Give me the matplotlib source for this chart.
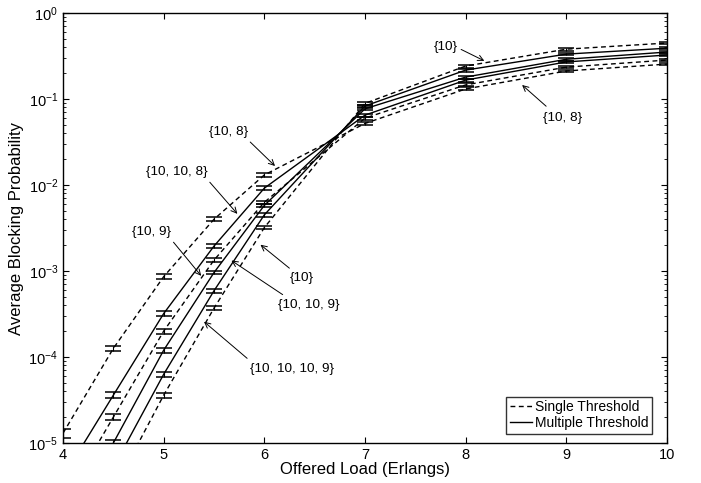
import numpy as np
import matplotlib
matplotlib.use("Agg")
import matplotlib.pyplot as plt

plt.rcParams['font.family'] = ['Liberation Sans', 'DejaVu Sans']
plt.rcParams['mathtext.fontset'] = 'custom'
plt.rcParams['mathtext.rm'] = 'Liberation Sans'

load = [4, 4.5, 5, 5.5, 6, 7, 8, 9, 10]

# single threshold (dashed)
st_10_8 = [1.3e-5, 1.26e-4, 8.6e-4, 4.0e-3, 1.31e-2, 0.052, 0.131, 0.212, 0.255]
st_10_9 = [2.0e-6, 2.0e-5, 2.0e-4, 1.34e-3, 6.3e-3, 0.060, 0.146, 0.235, 0.284]
st_10 = [2.0e-7, 2.8e-6, 3.6e-5, 3.7e-4, 3.2e-3, 0.089, 0.242, 0.380, 0.448]

# multiple threshold (solid)
mt_10_10_8 = [4.0e-6, 3.6e-5, 3.2e-4, 1.95e-3, 9.2e-3, 0.065, 0.166, 0.270, 0.325]
mt_10_10_9 = [8.0e-7, 1.0e-5, 1.2e-4, 9.6e-4, 5.8e-3, 0.077, 0.180, 0.290, 0.352]
mt_10_10_10_9 = [5.0e-7, 5.2e-6, 6.3e-5, 5.9e-4, 4.5e-3, 0.083, 0.217, 0.333, 0.390]

# relative half-width of the confidence bars at each load
err_frac = [0.12, 0.08, 0.07, 0.05, 0.045, 0.04, 0.04, 0.035, 0.03]

single = [st_10_8, st_10_9, st_10]
multiple = [mt_10_10_8, mt_10_10_9, mt_10_10_10_9]

# (label, text xy, arrow tail xy, arrow head xy)
notes = [
    ("{10, 8}", (5.64, 0.0413), (5.84, 0.0333), (6.126, 0.0158)),
    ("{10, 10, 8}", (5.13, 0.0142), (5.44, 0.0114), (5.75, 0.00437)),
    ("{10, 9}", (4.88, 0.00284), (5.08, 0.00229), (5.39, 8.3e-4)),
    ("{10}", (6.37, 8.3e-4), (6.27, 1.03e-3), (5.94, 2.12e-3)),
    ("{10, 10, 9}", (6.44, 4.0e-4), (6.205, 5.1e-4), (5.65, 1.38e-3)),
    ("{10, 10, 10, 9}", (6.275, 7.2e-5), (5.85, 9.2e-5), (5.38, 2.7e-4)),
    ("{10}", (7.80, 0.403), (7.93, 0.39), (8.21, 0.269)),
    ("{10, 8}", (8.96, 0.060), (8.82, 0.0785), (8.54, 0.153)),
]


def draw(ax, y, ls, label=None, first=1):
    y = np.array(y)
    err = y * np.array(err_frac)
    line, = ax.plot(load, y, color='k', lw=1.0, ls=ls, label=label)
    if ls == '--':
        line.set_dashes((3.5, 2.5))
    ax.errorbar(load[first:], y[first:], yerr=err[first:], fmt='none',
                ecolor='k', elinewidth=0.8, capsize=6, capthick=1.1)
    return line


fig = plt.figure(figsize=(7.01, 4.83), dpi=100)
ax = fig.add_axes([0.0899, 0.0828, 0.8616, 0.8902])

# only the top curve shows a bar at the first load
draw(ax, st_10_8, '--', 'Single Threshold', first=0)
draw(ax, st_10_9, '--')
draw(ax, st_10, '--')
for i, m in enumerate(multiple):
    draw(ax, m, '-', 'Multiple Threshold' if i == 0 else None)

ax.set_yscale('log')
ax.set_xlim(4, 10)
ax.set_ylim(1e-5, 1)
ax.set_xlabel("Offered Load (Erlangs)", fontsize=12, labelpad=0)
ax.set_ylabel("Average Blocking Probability", fontsize=12, labelpad=3)
ax.tick_params(which='both', direction='in', top=True, right=True, labelsize=10.5)
ax.tick_params(which='major', length=4.5)
ax.tick_params(which='minor', length=2.5)
for sp in ax.spines.values():
    sp.set_linewidth(1.0)

for txt, xy_t, tail, head in notes:
    ax.text(xy_t[0], xy_t[1], txt, fontsize=9.7, ha='center', va='center')
    ax.annotate("", xy=head, xytext=tail,
                arrowprops=dict(arrowstyle='->', color='k', lw=0.7,
                                mutation_scale=10))

leg = ax.legend(loc='lower right', bbox_to_anchor=(0.975, 0.022), fontsize=10,
                frameon=True, fancybox=False, handlelength=1.6,
                handletextpad=0.2, borderpad=0.25, labelspacing=0.15,
                borderaxespad=0.0)
leg.get_frame().set_edgecolor('k')
leg.get_frame().set_linewidth(1.0)

fig.savefig("out.png", dpi=100)
